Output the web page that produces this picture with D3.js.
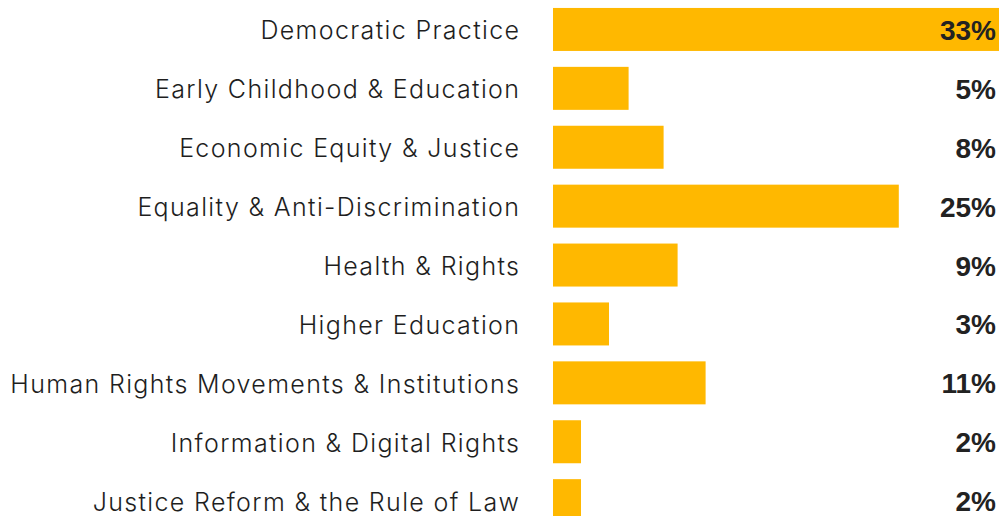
<!DOCTYPE html>
<html><head><meta charset="utf-8">
<script src="https://cdn.jsdelivr.net/npm/d3@7"></script>
<style>html,body{margin:0;padding:0;background:#fff;overflow:hidden}</style>
</head><body>
<svg id="chart" width="999" height="516"></svg>
<script>
const categories = [
  "Democratic Practice",
  "Early Childhood & Education",
  "Economic Equity & Justice",
  "Equality & Anti-Discrimination",
  "Health & Rights",
  "Higher Education",
  "Human Rights Movements & Institutions",
  "Information & Digital Rights",
  "Justice Reform & the Rule of Law"
];
const values = [33.0, 5.4, 7.9, 24.7, 8.9, 4.0, 10.9, 2.0, 2.0];
const valueLabels = ["33%", "5%", "8%", "25%", "9%", "3%", "11%", "2%", "2%"];

const W = 999, barX = 553, rightEdge = 996;
const svg = d3.select("#chart");

const x = d3.scaleLinear().domain([0, 35]).range([barX, barX + 490]);
const y = d3.scaleBand().domain(categories).range([0, 9 * 58.9]).paddingInner(0.27).paddingOuter(0.135);

svg.selectAll("rect.bar").data(categories).join("rect")
  .attr("class", "bar")
  .attr("x", x(0))
  .attr("y", d => y(d))
  .attr("width", (d, i) => x(values[i]) - x(0))
  .attr("height", y.bandwidth())
  .attr("fill", "#FFB800");

const ls = 1.35;
svg.selectAll("text.cat").data(categories).join("text")
  .attr("class", "cat")
  .attr("x", barX - 34 + ls)
  .attr("y", d => y(d) + y.bandwidth() / 2 + 1)
  .attr("text-anchor", "end")
  .attr("dominant-baseline", "central")
  .attr("font-family", "Inter, 'Open Sans', sans-serif")
  .attr("font-size", 25)
  .attr("font-weight", 300)
  .attr("letter-spacing", ls)
  .attr("fill", "#1e1e1e")
  .text(d => d);

svg.selectAll("text.val").data(categories).join("text")
  .attr("class", "val")
  .attr("x", rightEdge)
  .attr("y", d => y(d) + y.bandwidth() / 2 + 1)
  .attr("text-anchor", "end")
  .attr("dominant-baseline", "central")
  .attr("font-family", "'Liberation Sans', Arial, sans-serif")
  .attr("font-size", 28)
  .attr("font-weight", 700)
  .attr("fill", "#222")
  .text((d, i) => valueLabels[i]);
</script>
</body></html>
